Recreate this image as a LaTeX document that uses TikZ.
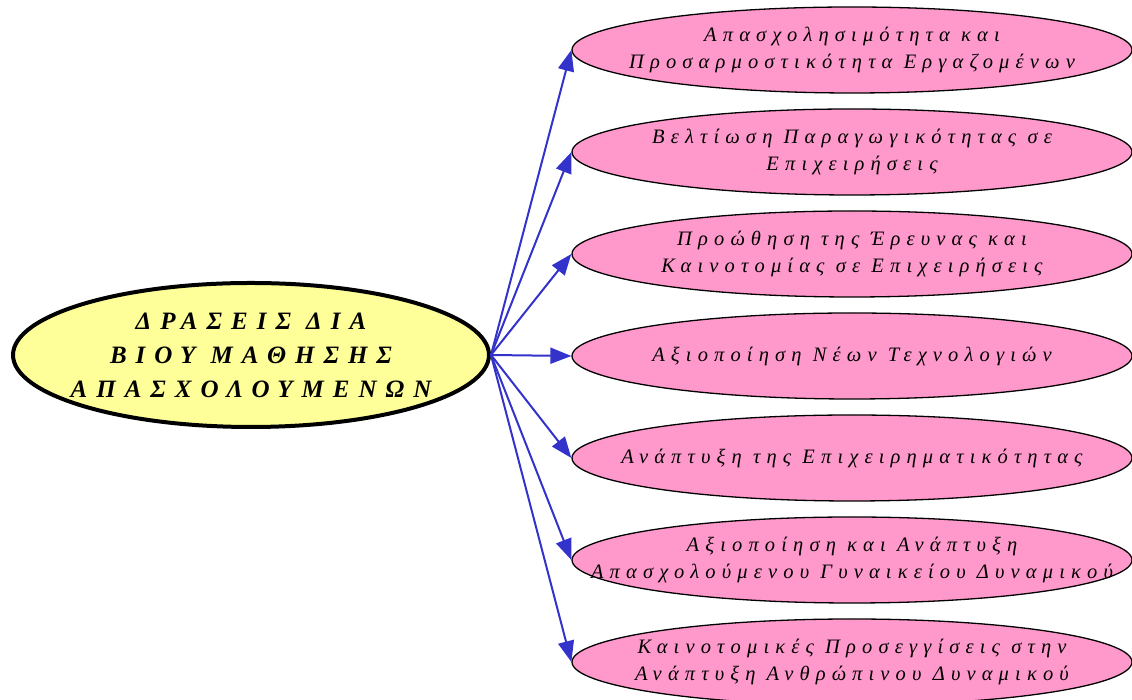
\documentclass[tikz,border=0pt]{standalone}
\usepackage{fontspec}
\setmainfont{Liberation Serif}
\newfontfamily\gsmall[LetterSpace=30]{Liberation Serif}
\newfontfamily\gbig[LetterSpace=36]{Liberation Serif}
\usetikzlibrary{shapes.geometric,arrows.meta}
\definecolor{pinkfill}{HTML}{FF99CC}
\definecolor{yellowfill}{HTML}{FFFF99}
\definecolor{arrowblue}{HTML}{3333CC}
\begin{document}
\begin{tikzpicture}[x=1pt,y=1pt,
  topictext/.style={align=center,inner sep=0pt,font=\gsmall\itshape\fontsize{20.5}{27}\selectfont},
  hubtext/.style={align=center,inner sep=0pt,font=\gbig\bfseries\itshape\fontsize{25}{34}\selectfont},
  topic/.style={ellipse,draw=black,line width=1.3pt,fill=pinkfill,minimum width=560pt,minimum height=86pt,inner sep=0pt,label={[topictext]center:#1}},
  hub/.style={ellipse,draw=black,line width=4pt,fill=yellowfill,minimum width=476pt,minimum height=144pt,inner sep=0pt,label={[hubtext]center:#1}},
  link/.style={draw=arrowblue,line width=2pt,-{Triangle[length=21pt,width=16pt]}}]
\useasboundingbox (0,0) rectangle (1132,700);
\node[hub={ΔΡΑΣΕΙΣ ΔΙΑ\\ΒΙΟΥ ΜΑΘΗΣΗΣ\\ΑΠΑΣΧΟΛΟΥΜΕΝΩΝ}] (c) at (251,345) {};
\node[topic={Απασχολησιμότητα και\\Προσαρμοστικότητα Εργαζομένων}] (e1) at (852,650) {};
\node[topic={Βελτίωση Παραγωγικότητας σε\\Επιχειρήσεις}] (e2) at (852,548) {};
\node[topic={Προώθηση της Έρευνας και\\Καινοτομίας σε Επιχειρήσεις}] (e3) at (852,446) {};
\node[topic={Αξιοποίηση Νέων Τεχνολογιών}] (e4) at (852,344) {};
\node[topic={Ανάπτυξη της Επιχειρηματικότητας}] (e5) at (852,242) {};
\node[topic={Αξιοποίηση και Ανάπτυξη\\Απασχολούμενου Γυναικείου Δυναμικού}] (e6) at (852,140) {};
\node[topic={Καινοτομικές Προσεγγίσεις στην\\Ανάπτυξη Ανθρώπινου Δυναμικού}] (e7) at (852,38) {};
\foreach \n in {e1,e2,e3,e4,e5,e6,e7}
  \draw[link] (c.east) -- (\n.west);
\end{tikzpicture}
\end{document}
